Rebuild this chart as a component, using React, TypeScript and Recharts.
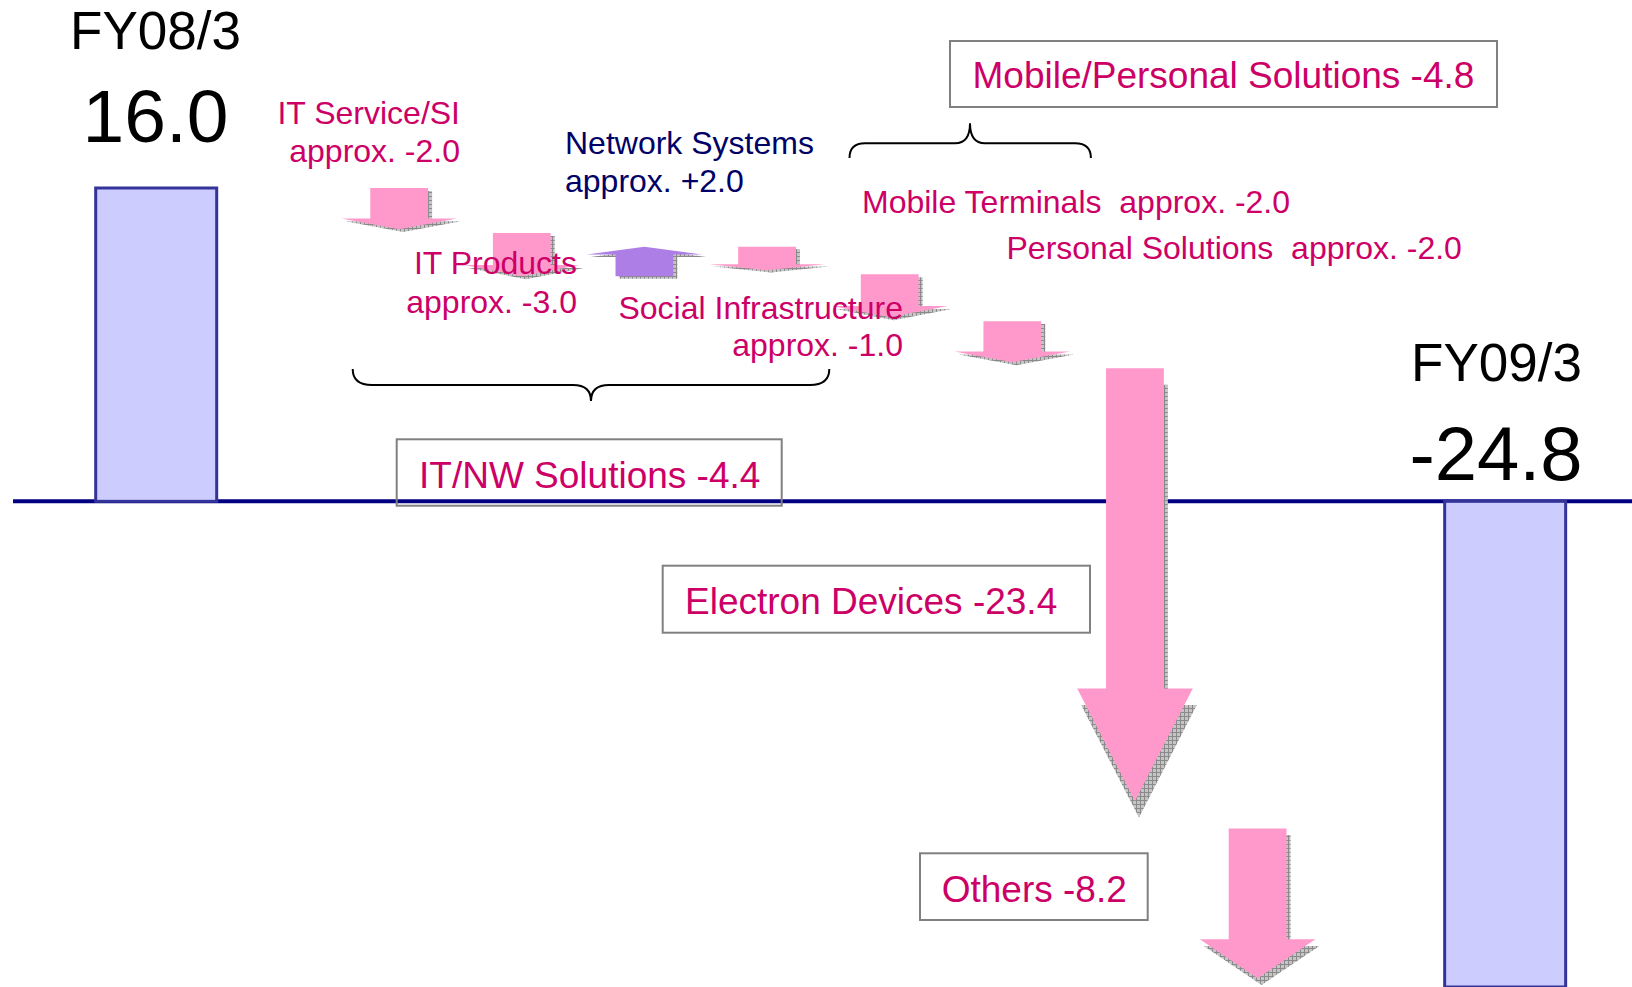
import React from 'react';
import { ComposedChart, Bar, XAxis, YAxis, CartesianGrid } from 'recharts';

// one slot per column, left to right (two empty slots keep the spacing)
const slots = ['FY08/3', 'gap-a', 'IT Service/SI', 'IT Products', 'Network Systems', 'Social Infrastructure', 'Mobile Terminals', 'Personal Solutions', 'Electron Devices', 'Others', 'gap-b', 'FY09/3'];
const markKinds = ['total', null, 'down', 'down', 'up', 'down', 'down', 'down', 'down', 'down', null, 'total'];
// where each bar / arrow starts and ends (billion yen, as drawn)
const startValues = [0, null, 16.0, 13.7, 11.5, 13.0, 11.6, 9.2, 6.8, -16.7, null, 0];
const endValues = [16.0, null, 13.9, 11.5, 13.0, 11.8, 9.4, 7.1, -15.3, -24.35, null, -24.8];

const totalTitles = ['FY08/3', 'FY09/3'];
const totalValues = [16.0, -24.8];

const itemLabels = [
  ['IT Service/SI', 'approx. -2.0'],
  ['Network Systems', 'approx. +2.0'],
  ['IT Products', 'approx. -3.0'],
  ['Social Infrastructure', 'approx. -1.0'],
  ['Mobile Terminals  approx. -2.0'],
  ['Personal Solutions  approx. -2.0'],
];
const segmentLabels = ['Mobile/Personal Solutions -4.8', 'IT/NW Solutions -4.4', 'Electron Devices -23.4', 'Others -8.2'];

const rows = slots.map((slot, i) => ({
  slot,
  kind: markKinds[i],
  range: startValues[i] === null ? null : [startValues[i], endValues[i]],
}));

const FONT = "'Liberation Sans', Arial, sans-serif";
const PINK = '#cc0066';
const NAVY = '#000066';

const MarkShape = (props: any) => {
  const { x, y, width, height, payload } = props;
  if (!payload || !payload.kind) return <g />;
  const top = Math.min(y, y + height);
  const bottom = Math.max(y, y + height);
  if (payload.kind === 'total') {
    return <rect x={x + 1} y={top} width={width - 2} height={bottom - top} fill="#ccccff" stroke="#333399" strokeWidth={3} />;
  }
  // arrows sit a touch left of the slot centre in the original
  const cx = x + width / 2 - 2.3;
  const len = bottom - top;
  const head = len * 0.26;
  const hw = width * 0.47;
  const bw = width * 0.235;
  let pts: number[][];
  if (payload.kind === 'down') {
    pts = [[cx - bw, top], [cx + bw, top], [cx + bw, bottom - head], [cx + hw, bottom - head], [cx, bottom], [cx - hw, bottom - head], [cx - bw, bottom - head]];
  } else {
    pts = [[cx, top], [cx + hw, top + head], [cx + bw, top + head], [cx + bw, bottom], [cx - bw, bottom], [cx - bw, top + head], [cx - hw, top + head]];
  }
  const dx = 4;
  const dy = 1.5 + len * 0.035;
  const main = pts.map((p) => p.join(',')).join(' ');
  const shadow = pts.map((p) => `${p[0] + dx},${p[1] + dy}`).join(' ');
  return (
    <g>
      <polygon points={shadow} fill="url(#shadowHatch)" />
      <polygon points={main} fill={payload.kind === 'up' ? '#ac7ee6' : '#ff99cc'} />
    </g>
  );
};

const Box = ({ x, y, w, h, text, tx, ty }: any) => (
  <g>
    <rect x={x} y={y} width={w} height={h} fill="none" stroke="#808080" strokeWidth={2} />
    <text x={tx} y={ty} fill={PINK} fontSize={37}>{text}</text>
  </g>
);

const Overlay = () => (
  <svg width={1632} height={987} style={{ position: 'absolute', left: 0, top: 0, pointerEvents: 'none', fontFamily: FONT }}>
    {/* totals */}
    <text x={155.5} y={49} textAnchor="middle" fontSize={53} fill="#000">{totalTitles[0]}</text>
    <text x={155.5} y={141.5} textAnchor="middle" fontSize={75} fill="#000">{totalValues[0].toFixed(1)}</text>
    <text x={1496.5} y={381} textAnchor="middle" fontSize={53} fill="#000">{totalTitles[1]}</text>
    <text x={1496} y={480} textAnchor="middle" fontSize={76} fill="#000">{totalValues[1].toFixed(1)}</text>

    {/* item labels */}
    <text x={460} y={124} textAnchor="end" fontSize={32} fill={PINK}>{itemLabels[0][0]}</text>
    <text x={460} y={162} textAnchor="end" fontSize={32} fill={PINK}>{itemLabels[0][1]}</text>
    <text x={565} y={153.5} fontSize={32} fill={NAVY}>{itemLabels[1][0]}</text>
    <text x={565} y={191.5} fontSize={32} fill={NAVY}>{itemLabels[1][1]}</text>
    <text x={577} y={274} textAnchor="end" fontSize={32} fill={PINK}>{itemLabels[2][0]}</text>
    <text x={577} y={312.5} textAnchor="end" fontSize={32} fill={PINK}>{itemLabels[2][1]}</text>
    <text x={903} y={319} textAnchor="end" fontSize={32} fill={PINK}>{itemLabels[3][0]}</text>
    <text x={903} y={355.5} textAnchor="end" fontSize={32} fill={PINK}>{itemLabels[3][1]}</text>
    <text x={862} y={212.5} fontSize={32} fill={PINK} style={{ whiteSpace: 'pre' }}>{itemLabels[4][0]}</text>
    <text x={1006.5} y={259} fontSize={32} fill={PINK} style={{ whiteSpace: 'pre' }}>{itemLabels[5][0]}</text>

    {/* braces */}
    <path d="M849.5,158 Q849.5,143.3 865,143.3 L955,143.3 Q970,143.3 970,123.3 Q970,143.3 985,143.3 L1075,143.3 Q1090.9,143.3 1090.9,158" fill="none" stroke="#000" strokeWidth={2} />
    <path d="M352.7,369 Q352.7,385 372,385 L573,385 Q591,385 591,401 Q591,385 609,385 L810,385 Q829.3,385 829.3,369" fill="none" stroke="#000" strokeWidth={2} />

    {/* segment boxes */}
    <Box x={950} y={41} w={547} h={66} text={segmentLabels[0]} tx={972.5} ty={88.3} />
    <Box x={396.7} y={439.3} w={385} h={66.4} text={segmentLabels[1]} tx={419} ty={487.7} />
    <Box x={662.7} y={565.7} w={427.3} h={67} text={segmentLabels[2]} tx={685} ty={614} />
    <Box x={920} y={853.3} w={227.7} h={66.7} text={segmentLabels[3]} tx={941.7} ty={901.7} />
  </svg>
);

const App: React.FC = () => {
  return (
    <div style={{ position: 'absolute', left: 0, top: 0, width: 1632, height: 987, background: '#fff', overflow: 'hidden', fontFamily: FONT }}>
      <svg width={0} height={0} style={{ position: 'absolute' }}>
        <defs>
          <pattern id="shadowHatch" width={4} height={4} patternUnits="userSpaceOnUse">
            <rect width={4} height={4} fill="#c4c4c4" />
            <path d="M0,0.5 H4 M0.5,0 V4" stroke="#8a8a8a" strokeWidth={1} />
          </pattern>
        </defs>
      </svg>
      <ComposedChart width={1632} height={987} data={rows} margin={{ top: 0, right: 0, bottom: 0, left: 13 }} barCategoryGap={0} barGap={0}>
        <CartesianGrid vertical={false} horizontalValues={[0]} stroke="#000080" strokeWidth={4} />
        <XAxis dataKey="slot" type="category" hide padding={{ left: 81.7, right: 65.7 }} />
        <YAxis hide type="number" domain={[-24.8, 25.6]} allowDataOverflow />
        <Bar dataKey="range" isAnimationActive={false} shape={MarkShape} />
      </ComposedChart>
      <Overlay />
    </div>
  );
};

export default App;
